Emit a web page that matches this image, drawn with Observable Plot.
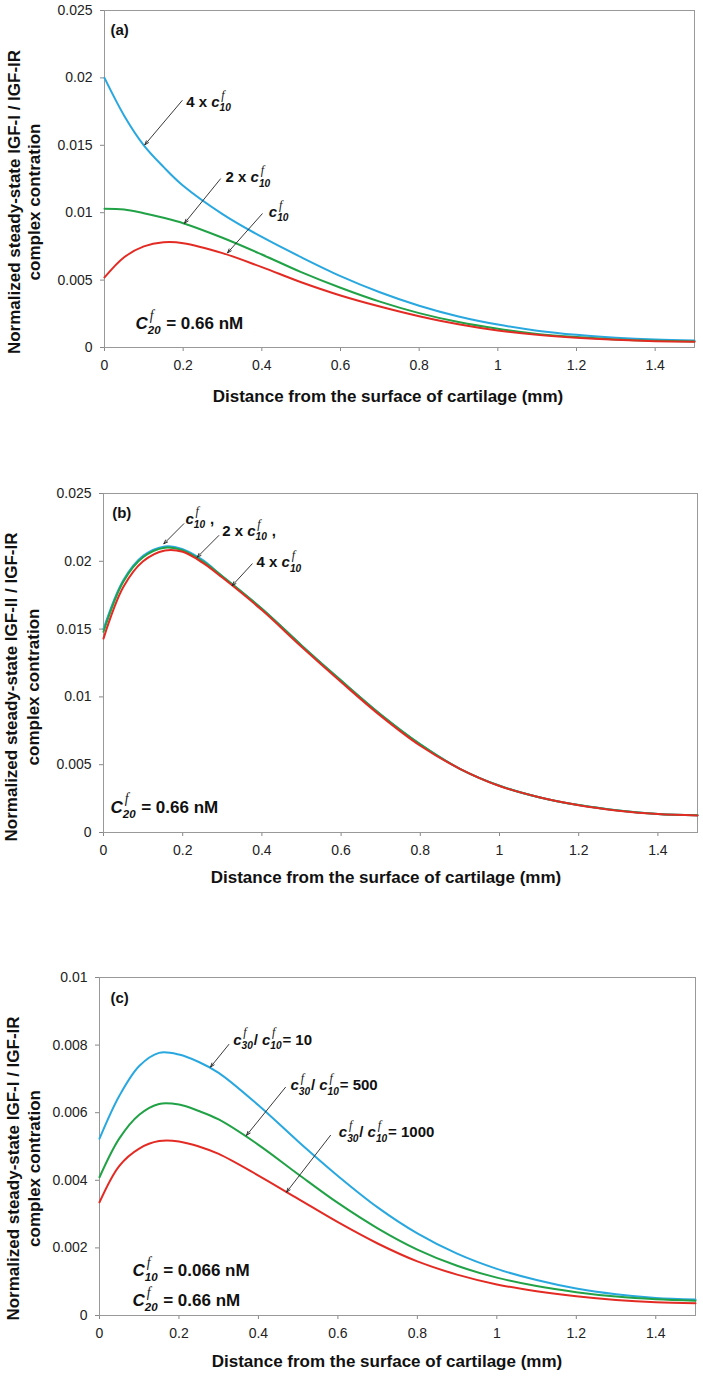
<!DOCTYPE html>
<html><head><meta charset="utf-8">
<script src="https://cdn.jsdelivr.net/npm/d3@7"></script>
<script src="https://cdn.jsdelivr.net/npm/@observablehq/plot@0.6"></script>
<style>
body{margin:0;background:#fff;}
#wrap{position:relative;width:703px;height:1376px;background:#fff;}
.panel{position:absolute;left:0;}
g[aria-label="x-axis tick"], g[aria-label="y-axis tick"]{stroke:#888;}
.tick line{stroke:#888;}
g[aria-label="x-axis tick label"], g[aria-label="y-axis tick label"]{fill:#222;}
</style></head><body><div id="wrap"></div>
<script>
// ---------- Data ----------
const xTicks = [0, 0.2, 0.4, 0.6, 0.8, 1.0, 1.2, 1.4];

// Panel (a): IGF-I / IGF-IR
const xA = [0, 0.05, 0.1, 0.15, 0.2, 0.3, 0.4, 0.5, 0.6, 0.7, 0.8, 0.9, 1.0, 1.1, 1.2, 1.3, 1.4, 1.5];
const a4x = [0.0200, 0.0172, 0.0150, 0.0134, 0.0120, 0.0099, 0.0082, 0.0067, 0.0053, 0.0041, 0.0031, 0.0023, 0.0017, 0.00125, 0.00094, 0.00073, 0.00059, 0.00052];
const a2x = [0.0103, 0.01024, 0.00996, 0.00962, 0.00922, 0.00814, 0.0069, 0.00559, 0.00443, 0.0034, 0.00255, 0.00189, 0.00139, 0.00101, 0.00077, 0.0006, 0.0005, 0.00045];
const a1x = [0.0052, 0.0067, 0.0075, 0.0078, 0.00774, 0.0070, 0.00596, 0.00484, 0.00386, 0.00304, 0.00232, 0.00172, 0.00126, 0.00094, 0.00072, 0.00057, 0.00047, 0.00042];
const yTicksA = [0, 0.005, 0.01, 0.015, 0.02, 0.025];

// Panel (b): IGF-II / IGF-IR
const xB = [0, 0.05, 0.1, 0.155, 0.2, 0.25, 0.3, 0.4, 0.5, 0.6, 0.7, 0.8, 0.9, 1.0, 1.1, 1.2, 1.3, 1.4, 1.5];
const b1x = [0.0150, 0.0186, 0.0204, 0.0211, 0.0209, 0.0201, 0.0189, 0.0165, 0.0138, 0.0112, 0.0087, 0.0065, 0.0047, 0.00345, 0.0026, 0.00202, 0.00162, 0.00137, 0.00127];
const b2x = [0.0148, 0.0185, 0.0203, 0.0210, 0.0208, 0.0200, 0.0189, 0.0165, 0.0138, 0.0112, 0.0087, 0.0065, 0.0047, 0.00345, 0.0026, 0.00202, 0.00162, 0.00137, 0.00127];
const b4x = [0.0143, 0.0181, 0.0200, 0.0208, 0.0207, 0.0199, 0.0188, 0.0164, 0.0137, 0.0111, 0.0086, 0.0064, 0.0047, 0.00343, 0.0026, 0.00201, 0.00161, 0.00136, 0.00126];
const yTicksB = [0, 0.005, 0.01, 0.015, 0.02, 0.025];

// Panel (c): IGF-I / IGF-IR, varying c30/c10
const xC = [0, 0.05, 0.1, 0.15, 0.2, 0.25, 0.3, 0.4, 0.5, 0.6, 0.7, 0.8, 0.9, 1.0, 1.1, 1.2, 1.3, 1.4, 1.5];
const c10r = [0.00523, 0.0065, 0.00738, 0.00777, 0.00772, 0.0075, 0.00718, 0.00622, 0.00515, 0.00413, 0.0032, 0.00243, 0.00183, 0.00138, 0.00105, 0.0008, 0.00063, 0.00052, 0.00047];
const c500r = [0.00409, 0.00524, 0.00594, 0.00626, 0.00624, 0.00605, 0.0058, 0.00505, 0.00418, 0.00333, 0.00258, 0.00195, 0.00147, 0.00112, 0.00087, 0.00069, 0.00056, 0.00048, 0.00044];
const c1000r = [0.00335, 0.00443, 0.00494, 0.00516, 0.00515, 0.005, 0.00478, 0.00414, 0.00345, 0.00276, 0.00213, 0.0016, 0.00121, 0.00092, 0.00072, 0.00057, 0.00046, 0.00039, 0.00036];
const yTicksC = [0, 0.002, 0.004, 0.006, 0.008, 0.01];

// Annotations
const labelsA = [
  {x: 0.2077, y: 0.0182, t: "4 x {c|f|10}"},
  {x: 0.3077, y: 0.01263, t: "2 x {c|f|10}"},
  {x: 0.4178, y: 0.01004, t: "{c|f|10}"}
];
const arrowsA = [
  {x1: 0.1975, y1: 0.01832, x2: 0.1026, y2: 0.01504},
  {x1: 0.2949, y1: 0.01251, x2: 0.2034, y2: 0.00922},
  {x1: 0.401, y1: 0.00992, x2: 0.3128, y2: 0.00702}
];
const notesA = [
  {x: 0.0153, y: 0.02352, t: "(a)", s: 15},
  {x: 0.0788, y: 0.00176, t: "{C|f|20} = 0.66 nM", s: 17}
];

const labelsB = [
  {x: 0.207, y: 0.02313, t: "{c|f|10} ,"},
  {x: 0.2997, y: 0.02222, t: "2 x {c|f|10} ,"},
  {x: 0.3864, y: 0.01993, t: "4 x {c|f|10}"}
];
const arrowsB = [
  {x1: 0.2028, y1: 0.02277, x2: 0.1523, y2: 0.02129},
  {x1: 0.2912, y1: 0.0219, x2: 0.2366, y2: 0.0203},
  {x1: 0.3754, y1: 0.01981, x2: 0.325, y2: 0.01821}
];
const notesB = [
  {x: 0.022, y: 0.02356, t: "(b)", s: 15},
  {x: 0.0177, y: 0.00187, t: "{C|f|20} = 0.66 nM", s: 17}
];

const labelsC = [
  {x: 0.3365, y: 0.00816, t: "{c|f|30}/ {c|f|10}= 10"},
  {x: 0.4807, y: 0.0068, t: "{c|f|30}/ {c|f|10}= 500"},
  {x: 0.6023, y: 0.00542, t: "{c|f|30}/ {c|f|10}= 1000"}
];
const arrowsC = [
  {x1: 0.3255, y1: 0.00802, x2: 0.2794, y2: 0.00735},
  {x1: 0.468, y1: 0.00675, x2: 0.37, y2: 0.00533},
  {x1: 0.5814, y1: 0.00533, x2: 0.4707, y2: 0.00365}
];
const notesC = [
  {x: 0.0277, y: 0.00939, t: "(c)", s: 15},
  {x: 0.083, y: 0.00133, t: "{C|f|10} = 0.066 nM", s: 17},
  {x: 0.083, y: 0.00044, t: "{C|f|20} = 0.66 nM", s: 17}
];

const xTitle = "Distance from the surface of cartilage (mm)";
const yTitle2 = "complex contration";

const BLUE = "#29a8e0", GREEN = "#21a246", RED = "#e32b24";

// ---------- Helpers ----------
const fmt = d => d === 0 ? "0" : String(+d.toFixed(4));
const toRows = (xs, ys) => xs.map((x, i) => ({x, y: ys[i]}));
const NS = "http://www.w3.org/2000/svg";

function richify(svg) {
  d3.select(svg).selectAll("text").each(function() {
    const t = this.textContent;
    if (!t.includes("{")) return;
    const fs = parseFloat(getComputedStyle(this).fontSize) || 15;
    this.textContent = "";
    const re = /\{([^|}]*)\|([^|}]*)\|([^}]*)\}/g;
    let last = 0, m, pdx = 0, pdy = 0;
    const add = (txt, opts) => {
      const ts = document.createElementNS(NS, "tspan");
      ts.textContent = txt;
      for (const k in opts) if (opts[k] !== 0 && opts[k] != null) ts.setAttribute(k, opts[k]);
      this.appendChild(ts);
      return ts;
    };
    while ((m = re.exec(t))) {
      if (m.index > last) { add(t.slice(last, m.index), {dx: pdx, dy: pdy}); pdx = 0; pdy = 0; }
      add(m[1], {"font-style": "italic", dx: pdx, dy: pdy}); pdx = 0; pdy = 0;
      const sub = add(m[3], {"font-style": "italic", "font-size": fs * 0.68, dy: fs * 0.3});
      const w1 = sub.getComputedTextLength();
      const off = fs * 0.12;
      const sup = add(m[2], {"font-style": "italic", "font-weight": "normal", "font-size": fs * 0.8,
        "font-family": "Liberation Serif, serif", dx: -w1 + off, dy: -fs * 0.85});
      const w2 = sup.getComputedTextLength();
      pdx = Math.max(0, w1 - off - w2) + fs * 0.05;
      pdy = fs * 0.55;
      last = re.lastIndex;
    }
    if (last < t.length) add(t.slice(last), {dx: pdx, dy: pdy});
  });
}

function makePanel(cfg) {
  const chart = Plot.plot({
    width: 703, height: cfg.height,
    marginTop: cfg.mt, marginBottom: cfg.mb, marginLeft: cfg.ml, marginRight: cfg.mr,
    style: {fontFamily: "'Liberation Sans', Arial, sans-serif", fontSize: "14px", color: "#222", background: "white", overflow: "visible"},
    x: {domain: [0, 1.5], ticks: xTicks, tickFormat: fmt, tickSize: 4, tickPadding: 9, label: null},
    y: {domain: [0, cfg.yTicks[cfg.yTicks.length - 1]], ticks: cfg.yTicks, tickFormat: fmt, tickSize: 4, tickPadding: 8, label: null},
    marks: [
      Plot.frame({stroke: "#999", strokeWidth: 1}),
      ...cfg.lines.map(([rows, col]) => Plot.line(rows, {x: "x", y: "y", stroke: col, strokeWidth: 2, curve: "catmull-rom"})),
      Plot.arrow(cfg.arrows, {x1: "x1", y1: "y1", x2: "x2", y2: "y2", stroke: "#222", strokeWidth: 0.9, headLength: 7, headAngle: 40}),
      Plot.text(cfg.labels, {x: "x", y: "y", text: "t", textAnchor: "start", fontWeight: "bold", fontSize: 15, fill: "#111"}),
      Plot.text(cfg.notes.filter(d => d.s === 15), {x: "x", y: "y", text: "t", textAnchor: "start", fontWeight: "bold", fontSize: 15, fill: "#111"}),
      Plot.text(cfg.notes.filter(d => d.s === 17), {x: "x", y: "y", text: "t", textAnchor: "start", fontWeight: "bold", fontSize: 17, fill: "#111"})
    ]
  });
  const div = document.createElement("div");
  div.className = "panel";
  div.style.top = cfg.top + "px";
  div.appendChild(chart);
  document.getElementById("wrap").appendChild(div);
  const s = d3.select(chart);
  // y-axis title (two lines, rotated)
  [[cfg.yTitle1, cfg.yx1], [yTitle2, cfg.yx2]].forEach(([txt, bx]) => {
    s.append("text")
      .attr("transform", `translate(${bx},${cfg.ycy}) rotate(-90)`)
      .attr("text-anchor", "middle")
      .attr("font-weight", "bold").attr("font-size", 17).attr("fill", "#111")
      .text(txt);
  });
  s.append("text")
    .attr("x", cfg.xcx).attr("y", cfg.xby)
    .attr("text-anchor", "middle")
    .attr("font-weight", "bold").attr("font-size", 17).attr("fill", "#111")
    .text(xTitle);
  richify(chart);
}

makePanel({
  top: 0, height: 410, mt: 10, mb: 63, ml: 104, mr: 9, yTicks: yTicksA,
  lines: [[toRows(xA, a4x), BLUE], [toRows(xA, a2x), GREEN], [toRows(xA, a1x), RED]],
  arrows: arrowsA, labels: labelsA, notes: notesA,
  yTitle1: "Normalized steady-state IGF-I / IGF-IR", yx1: 19.5, yx2: 40, ycy: 202,
  xcx: 388, xby: 402
});
makePanel({
  top: 440, height: 450, mt: 53, mb: 58, ml: 103, mr: 6, yTicks: yTicksB,
  lines: [[toRows(xB, b1x), BLUE], [toRows(xB, b2x), GREEN], [toRows(xB, b4x), RED]],
  arrows: arrowsB, labels: labelsB, notes: notesB,
  yTitle1: "Normalized steady-state IGF-II / IGF-IR", yx1: 16.5, yx2: 38.5, ycy: 247,
  xcx: 386, xby: 443
});
makePanel({
  top: 900, height: 476, mt: 77, mb: 61, ml: 99, mr: 8, yTicks: yTicksC,
  lines: [[toRows(xC, c10r), BLUE], [toRows(xC, c500r), GREEN], [toRows(xC, c1000r), RED]],
  arrows: arrowsC, labels: labelsC, notes: notesC,
  yTitle1: "Normalized steady-state IGF-I / IGF-IR", yx1: 18.5, yx2: 40, ycy: 268.5,
  xcx: 387, xby: 467
});
</script></body></html>
